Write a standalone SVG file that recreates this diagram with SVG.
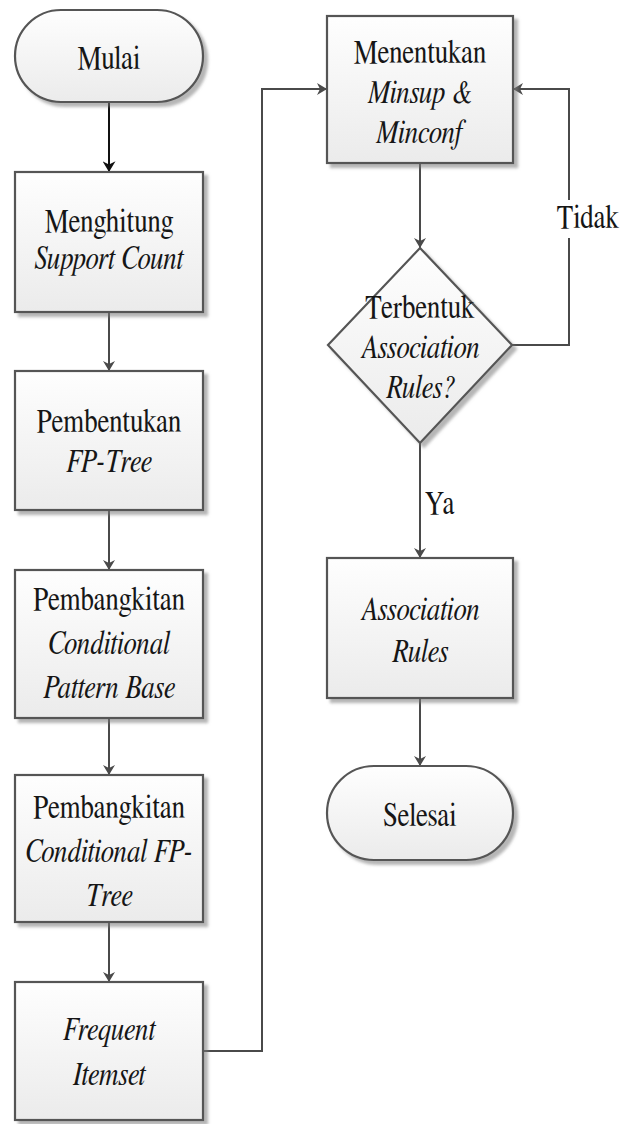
<svg xmlns="http://www.w3.org/2000/svg" width="636" height="1124" viewBox="0 0 636 1124">
  <defs>
    <linearGradient id="fillGrad" x1="0" y1="0" x2="0" y2="1">
      <stop offset="0" stop-color="#fefefe"/>
      <stop offset="1" stop-color="#ebebeb"/>
    </linearGradient>
    <filter id="shadow" x="-10%" y="-10%" width="130%" height="130%">
      <feDropShadow dx="4" dy="4" stdDeviation="1.5" flood-color="#7a7a7a" flood-opacity="0.55"/>
    </filter>
    <marker id="arrow" markerUnits="userSpaceOnUse" viewBox="0 0 10 12" refX="10" refY="6" markerWidth="10" markerHeight="12" orient="auto">
      <path d="M0,0 L10,6 L0,12 L3,6 z" fill="#4a4a4a"/>
    </marker>
    <marker id="arrowDark" markerUnits="userSpaceOnUse" viewBox="0 0 10 12" refX="10" refY="6" markerWidth="11" markerHeight="13" orient="auto">
      <path d="M0,0 L10,6 L0,12 L3,6 z" fill="#111"/>
    </marker>
  </defs>
  <style>
    .shape { fill: url(#fillGrad); stroke: #555; stroke-width: 2.2; filter: url(#shadow); }
    .t { font-family: FreeSerif, "Liberation Serif", "Times New Roman", serif; font-size: 27px; fill: #161616; text-anchor: middle; }
    .i { font-style: italic; }
    .edge { fill: none; stroke: #4a4a4a; stroke-width: 2; }
    .dark { stroke: #111; }
  </style>

  <rect width="636" height="1124" fill="#ffffff"/>

  <!-- connectors -->
  <g id="connectors">
    <line class="edge dark" x1="109" y1="102" x2="109" y2="172" marker-end="url(#arrowDark)"/>
    <line class="edge" x1="109" y1="312" x2="109" y2="371" marker-end="url(#arrow)"/>
    <line class="edge" x1="109" y1="510" x2="109" y2="570" marker-end="url(#arrow)"/>
    <line class="edge" x1="109" y1="718" x2="109" y2="775" marker-end="url(#arrow)"/>
    <line class="edge" x1="109" y1="922" x2="109" y2="982" marker-end="url(#arrow)"/>
    <polyline class="edge" points="203,1051 262,1051 262,89 327,89" marker-end="url(#arrow)"/>
    <line class="edge" x1="420" y1="163" x2="420" y2="248" marker-end="url(#arrow)"/>
    <polyline class="edge" points="512,345 569,345 569,89 513,89" marker-end="url(#arrow)"/>
    <line class="edge" x1="420" y1="443" x2="420" y2="558" marker-end="url(#arrow)"/>
    <line class="edge" x1="420" y1="698" x2="420" y2="766" marker-end="url(#arrow)"/>
    <!-- label "Tidak" sits on a white patch that breaks the loop line -->
    <rect x="552" y="200" width="72" height="38" fill="#ffffff"/>
    <text class="t" transform="translate(588,228) scale(1,1.25)">Tidak</text>
    <text class="t" style="text-anchor:start" transform="translate(425,514) scale(1,1.25)">Ya</text>
  </g>

  <g id="mulai">
    <rect class="shape" x="15" y="10" width="188" height="92" rx="46" ry="46"/>
    <text class="t" transform="translate(109,69) scale(1,1.25)">Mulai</text>
  </g>

  <g id="menghitung">
    <rect class="shape" x="15" y="172" width="188" height="140"/>
    <text class="t" transform="translate(109,232) scale(1,1.25)">Menghitung</text>
    <text class="t i" transform="translate(109,269) scale(1,1.25)">Support Count</text>
  </g>

  <g id="pembentukan">
    <rect class="shape" x="15" y="371" width="188" height="139"/>
    <text class="t" transform="translate(109,432) scale(1,1.25)">Pembentukan</text>
    <text class="t i" transform="translate(109,472) scale(1,1.25)">FP-Tree</text>
  </g>

  <g id="pembangkitan-cpb">
    <rect class="shape" x="15" y="570" width="188" height="148"/>
    <text class="t" transform="translate(109,610) scale(1,1.25)">Pembangkitan</text>
    <text class="t i" transform="translate(109,654) scale(1,1.25)">Conditional</text>
    <text class="t i" transform="translate(109,698) scale(1,1.25)">Pattern Base</text>
  </g>

  <g id="pembangkitan-cfp">
    <rect class="shape" x="15" y="775" width="188" height="147"/>
    <text class="t" transform="translate(109,818) scale(1,1.25)">Pembangkitan</text>
    <text class="t i" transform="translate(109,862) scale(1,1.25)">Conditional FP-</text>
    <text class="t i" transform="translate(109,906) scale(1,1.25)">Tree</text>
  </g>

  <g id="frequent-itemset">
    <rect class="shape" x="15" y="982" width="188" height="138"/>
    <text class="t i" transform="translate(109,1040) scale(1,1.25)">Frequent</text>
    <text class="t i" transform="translate(109,1085) scale(1,1.25)">Itemset</text>
  </g>

  <g id="menentukan">
    <rect class="shape" x="327" y="16" width="186" height="147"/>
    <text class="t" transform="translate(420,63) scale(1,1.25)">Menentukan</text>
    <text class="t i" transform="translate(420,103) scale(1,1.25)">Minsup &amp;</text>
    <text class="t i" transform="translate(420,143) scale(1,1.25)">Minconf</text>
  </g>

  <g id="keputusan">
    <polygon class="shape" points="420,248 512,345 420,443 328,345"/>
    <text class="t" transform="translate(420,318) scale(1,1.25)">Terbentuk</text>
    <text class="t i" transform="translate(420,358) scale(1,1.25)">Association</text>
    <text class="t i" transform="translate(420,398) scale(1,1.25)">Rules?</text>
  </g>

  <g id="association-rules">
    <rect class="shape" x="327" y="558" width="186" height="140"/>
    <text class="t i" transform="translate(420,620) scale(1,1.25)">Association</text>
    <text class="t i" transform="translate(420,662) scale(1,1.25)">Rules</text>
  </g>

  <g id="selesai">
    <rect class="shape" x="327" y="766" width="186" height="94" rx="47" ry="47"/>
    <text class="t" transform="translate(420,826) scale(1,1.25)">Selesai</text>
  </g>
</svg>
